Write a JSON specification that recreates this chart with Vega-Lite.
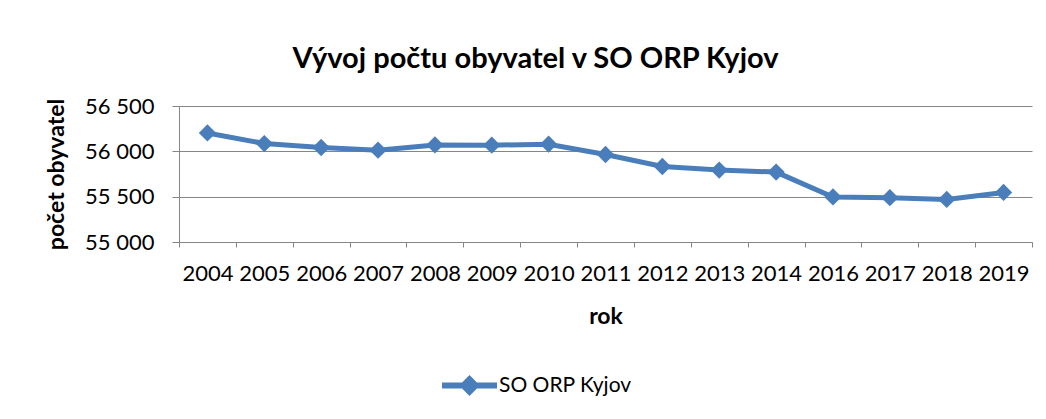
{
  "$schema": "https://vega.github.io/schema/vega-lite/v6.json",
  "width": 853,
  "height": 136,
  "autosize": {"type": "none"},
  "padding": {"left": 179, "top": 106, "right": 14, "bottom": 177},
  "background": "white",
  "title": {"text": "Vývoj počtu obyvatel v SO ORP Kyjov", "font": "Lato", "fontSize": 29, "fontWeight": "bold", "color": "black", "anchor": "middle", "dx": -70, "offset": 21},
  "data": {"values": [
    {"rok": "2004", "pocet": 56203, "serie": "SO ORP Kyjov"},
    {"rok": "2005", "pocet": 56086, "serie": "SO ORP Kyjov"},
    {"rok": "2006", "pocet": 56042, "serie": "SO ORP Kyjov"},
    {"rok": "2007", "pocet": 56013, "serie": "SO ORP Kyjov"},
    {"rok": "2008", "pocet": 56071, "serie": "SO ORP Kyjov"},
    {"rok": "2009", "pocet": 56068, "serie": "SO ORP Kyjov"},
    {"rok": "2010", "pocet": 56079, "serie": "SO ORP Kyjov"},
    {"rok": "2011", "pocet": 55965, "serie": "SO ORP Kyjov"},
    {"rok": "2012", "pocet": 55833, "serie": "SO ORP Kyjov"},
    {"rok": "2013", "pocet": 55793, "serie": "SO ORP Kyjov"},
    {"rok": "2014", "pocet": 55771, "serie": "SO ORP Kyjov"},
    {"rok": "2016", "pocet": 55497, "serie": "SO ORP Kyjov"},
    {"rok": "2017", "pocet": 55489, "serie": "SO ORP Kyjov"},
    {"rok": "2018", "pocet": 55470, "serie": "SO ORP Kyjov"},
    {"rok": "2019", "pocet": 55547, "serie": "SO ORP Kyjov"}
  ]},
  "encoding": {
    "x": {
      "field": "rok", "type": "ordinal", "title": "rok",
      "scale": {"type": "band", "paddingInner": 0, "paddingOuter": 0},
      "axis": {"tickBand": "extent", "labelAngle": 0, "domainColor": "#868686", "tickColor": "#868686", "tickSize": 5, "labelFont": "Lato", "labelFontSize": 22, "labelColor": "black", "labelPadding": 16, "titleFont": "Lato", "titleFontSize": 23, "titleFontWeight": "bold", "titleColor": "black", "titlePadding": 21, "grid": false}
    },
    "y": {
      "field": "pocet", "type": "quantitative", "title": "počet obyvatel",
      "scale": {"domain": [55000, 56500], "nice": false, "zero": false},
      "axis": {"values": [55000, 55500, 56000, 56500], "labelExpr": "replace(format(datum.value, ','), ',', ' ')", "domainColor": "#868686", "gridColor": "#868686", "tickColor": "#868686", "tickSize": 7, "labelFont": "Lato", "labelFontSize": 22, "labelColor": "black", "labelPadding": 18, "titleFont": "Lato", "titleFontSize": 23, "titleFontWeight": "bold", "titleColor": "black", "titlePadding": 16}
    },
    "color": {
      "field": "serie", "type": "nominal", "title": null,
      "scale": {"range": ["#4A7EBB"]},
      "legend": {
        "orient": "none", "legendX": 263, "legendY": 252,
        "labelFont": "Lato", "labelFontSize": 21, "labelColor": "black", "labelOffset": 2,
        "symbolType": "M-1,-0.11L-0.27,-0.11L0,-0.38L0.27,-0.11L1,-0.11L1,0.11L0.27,0.11L0,0.38L-0.27,0.11L-1,0.11Z",
        "symbolSize": 3025,
        "encode": {"symbols": {"update": {"fill": {"value": "#4A7EBB"}, "stroke": {"value": "#4A7EBB"}, "strokeWidth": {"value": 0}, "opacity": {"value": 1}, "fillOpacity": {"value": 1}}}}
      }
    }
  },
  "layer": [
    {"mark": {"type": "line", "strokeWidth": 5}},
    {"mark": {"type": "point", "shape": "diamond", "filled": true, "size": 300, "opacity": 1}}
  ],
  "config": {"view": {"stroke": null}}
}
